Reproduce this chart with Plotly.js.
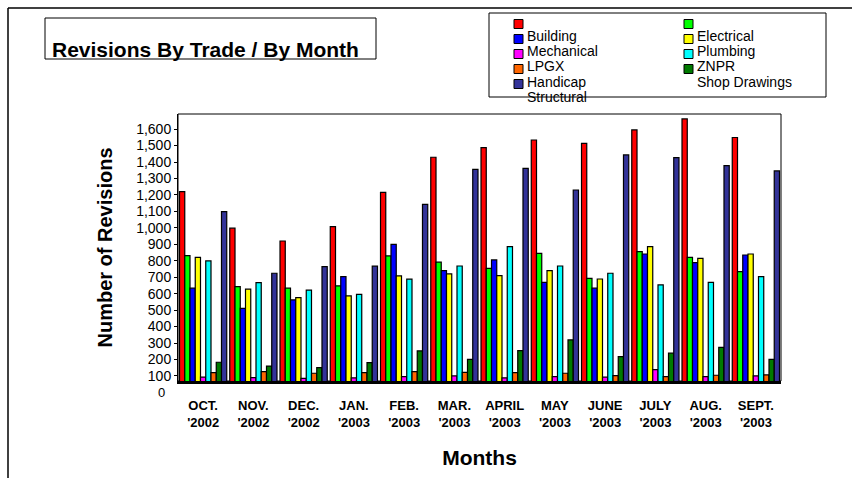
<!DOCTYPE html>
<html>
<head>
<meta charset="utf-8">
<script src="https://cdn.plot.ly/plotly-3.0.1.min.js"></script>
<style>
  html, body { margin: 0; padding: 0; background: #fff; }
  #chart { width: 852px; height: 478px; }
</style>
</head>
<body>
<div id="chart"></div>
<script>
// ---- data ----
const months = ["OCT.", "NOV.", "DEC.", "JAN.", "FEB.", "MAR.", "APRIL", "MAY", "JUNE", "JULY", "AUG.", "SEPT."];
const years = ["'2002", "'2002", "'2002", "'2003", "'2003", "'2003", "'2003", "'2003", "'2003", "'2003", "'2003", "'2003"];

const building     = [1220, 998, 920, 1007, 1216, 1429, 1488, 1534, 1514, 1595, 1662, 1549];
const electrical   = [831, 643, 633, 647, 829, 791, 754, 845, 693, 855, 821, 734];
const mechanical   = [633, 511, 562, 703, 900, 740, 805, 669, 633, 841, 789, 835];
const plumbing     = [821, 627, 576, 586, 708, 720, 710, 740, 689, 886, 815, 841];
const lpgx         = [92, 90, 85, 88, 95, 100, 88, 95, 92, 138, 95, 100];
const znpr         = [799, 667, 622, 596, 688, 768, 886, 768, 724, 653, 669, 704];
const handicap     = [120, 126, 116, 120, 126, 122, 120, 116, 102, 95, 104, 106];
const shopDrawings = [183, 160, 150, 181, 252, 201, 254, 319, 217, 238, 274, 201];
const structural   = [1099, 724, 764, 767, 1143, 1356, 1362, 1230, 1443, 1427, 1378, 1346];

const seriesNames  = ["Building", "Electrical", "Mechanical", "Plumbing", "LPGX", "ZNPR", "Handicap", "Shop Drawings", "Structural"];
const seriesValues = [building, electrical, mechanical, plumbing, lpgx, znpr, handicap, shopDrawings, structural];
const seriesColors = ["#FF0000", "#00FF00", "#0000FF", "#FFFF00", "#FF00FF", "#00FFFF", "#FF6600", "#007A00", "#333399"];

const yTicks = [100, 200, 300, 400, 500, 600, 700, 800, 900, 1000, 1100, 1200, 1300, 1400, 1500, 1600];

// ---- layout geometry ----
const W = 852, H = 478;
const L = 178, R = 781, T = 114, B = 381;
const yMin = 69, yMax = 1692;
const px2x = p => (p - L) / (R - L);
const px2y = p => (B - p) / (B - T);

const cats = months.map((m, i) => m + "<br>" + years[i]);

const traces = seriesNames.map((name, i) => ({
  type: "bar",
  name: name,
  x: cats,
  y: seriesValues[i],
  marker: { color: seriesColors[i], line: { color: "#000", width: 1.2 } },
  showlegend: false,
  hoverinfo: "x+y+name"
}));

const shapes = [
  // outer chart border (top & left)
  { type: "line", xref: "paper", yref: "paper", x0: px2x(8), x1: px2x(W), y0: px2y(8), y1: px2y(8), line: { color: "#000", width: 1.5 } },
  { type: "line", xref: "paper", yref: "paper", x0: px2x(8), x1: px2x(8), y0: px2y(8), y1: px2y(H), line: { color: "#000", width: 1.5 } },
  // plot frame
  { type: "rect", xref: "paper", yref: "paper", x0: 0, x1: 1, y0: 0, y1: 1, line: { color: "#000", width: 1 }, layer: "below" },
  // title box
  { type: "rect", xref: "paper", yref: "paper", x0: px2x(45), x1: px2x(376), y0: px2y(59), y1: px2y(18), line: { color: "#000", width: 1 } },
  // legend box
  { type: "rect", xref: "paper", yref: "paper", x0: px2x(489), x1: px2x(826), y0: px2y(97), y1: px2y(13), line: { color: "#000", width: 1 } }
];

const annotations = [];
// custom legend (two columns, row-wise order)
seriesNames.forEach((name, i) => {
  const r = Math.floor(i / 2), c = i % 2;
  const mx = c === 0 ? 514 : 684;
  const my = 24 + 15 * r;
  shapes.push({ type: "rect", xref: "paper", yref: "paper",
    x0: px2x(mx), x1: px2x(mx + 9), y0: px2y(my + 4.5), y1: px2y(my - 4.5),
    fillcolor: seriesColors[i], line: { color: "#000", width: 1 } });
  annotations.push({ xref: "paper", yref: "paper", x: px2x(mx + 11), y: px2y(36 + 15.2 * r),
    xanchor: "left", yanchor: "middle", showarrow: false, text: name,
    font: { family: "Liberation Sans, Arial, sans-serif", size: 14, color: "#000" } });
});
// the "0" value label below the floor
annotations.push({ xref: "paper", yref: "paper", x: px2x(167), y: (0 - yMin) / (yMax - yMin),
  xanchor: "right", yanchor: "middle", showarrow: false, text: "0",
  font: { family: "Liberation Sans, Arial, sans-serif", size: 13, color: "#000" } });

const layout = {
  width: W, height: H,
  margin: { l: L, r: W - R, t: T, b: H - B, pad: 0 },
  paper_bgcolor: "#fff", plot_bgcolor: "#fff",
  barmode: "group", bargap: 0.06, bargroupgap: 0,
  showlegend: false,
  title: {
    text: "<b>Revisions By Trade / By Month</b>",
    xref: "container", yref: "container",
    x: 52 / W, xanchor: "left", y: 1 - 50 / H, yanchor: "middle",
    font: { family: "Liberation Sans, Arial, sans-serif", size: 21, color: "#000" }
  },
  xaxis: {
    type: "category",
    showline: true, linecolor: "#000", linewidth: 3,
    ticks: "", ticklabelstandoff: 10,
    showgrid: false, zeroline: false,
    tickfont: { family: "Liberation Sans, Arial, sans-serif", size: 13, color: "#000", weight: "bold" },
    title: { text: "<b>Months</b>", standoff: 22,
      font: { family: "Liberation Sans, Arial, sans-serif", size: 21, color: "#000" } }
  },
  yaxis: {
    range: [yMin, yMax],
    showline: true, linecolor: "#000", linewidth: 1,
    ticks: "outside", ticklen: 3, tickcolor: "#000",
    tickvals: yTicks, tickformat: ",d",
    showgrid: false, zeroline: false,
    tickfont: { family: "Liberation Sans, Arial, sans-serif", size: 14, color: "#000" },
    title: { text: "<b>Number of Revisions</b>", standoff: 18,
      font: { family: "Liberation Sans, Arial, sans-serif", size: 20, color: "#000" } }
  },
  shapes: shapes,
  annotations: annotations
};

Plotly.newPlot("chart", traces, layout, { displayModeBar: false, staticPlot: true });
</script>
</body>
</html>
